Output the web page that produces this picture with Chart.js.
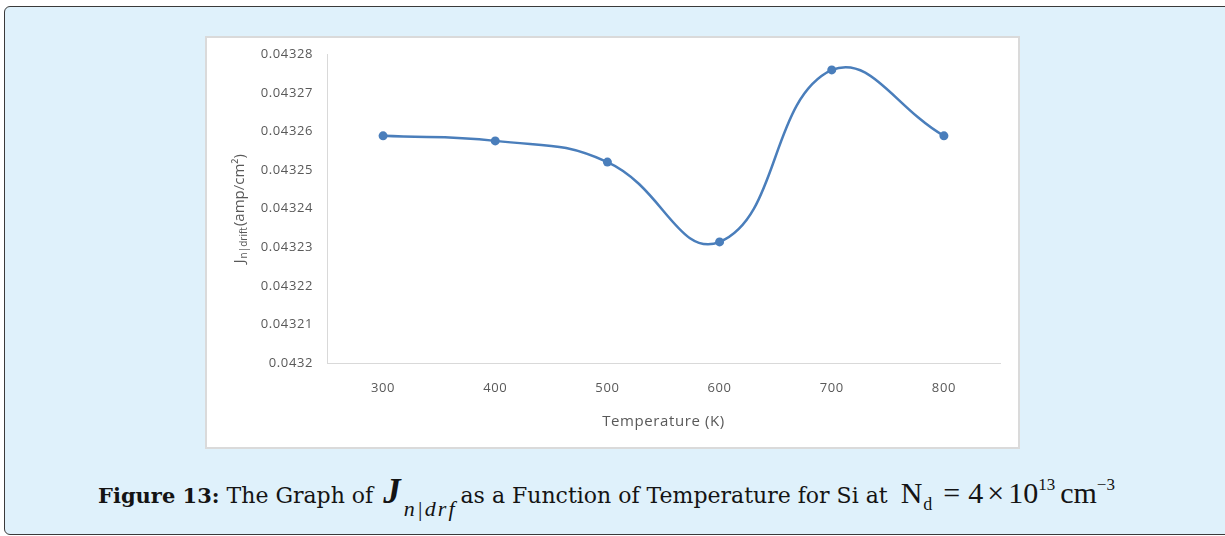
<!DOCTYPE html>
<html>
<head>
<meta charset="utf-8">
<title>Jn drift vs Temperature</title>
<script src="https://cdn.jsdelivr.net/npm/chart.js@4.4.0/dist/chart.umd.min.js"></script>
<style>
  html, body { margin: 0; padding: 0; background: #fff; }
  body { width: 1225px; height: 536px; position: relative; overflow: hidden; }
  #frame {
    position: absolute; left: 4px; top: 6px; width: 1240px; height: 529px;
    box-sizing: border-box; border: 1.5px solid #3a3a3a; border-radius: 6px;
    background: #dff1fb;
  }
  #plotBox {
    position: absolute; left: 205px; top: 36px; width: 815px; height: 413px;
    box-sizing: border-box; border: 2px solid #dadada; background: #fff;
  }
  #plotBox canvas { position: absolute; left: 0; top: 0; }
  #caption {
    position: absolute; left: 98px; top: 481px; line-height: 30px;
    font-family: "DejaVu Serif", serif; font-size: 22px; color: #141414;
    white-space: nowrap;
  }
  #caption span { line-height: 0; }
  #caption b { font-weight: bold; font-size: 21px; }
  .mj { font-family: "Liberation Serif", serif; font-weight: bold; font-style: italic; font-size: 35px; margin-left: 10px; }
  .msub { font-family: "Liberation Serif", serif; font-style: italic; font-size: 22px; letter-spacing: 2px; position: relative; top: 13px; margin-left: 3px; margin-right: 4px; }
  .mt { font-family: "Liberation Serif", serif; font-size: 30px; margin-left: 13px; }
  .mt .sb { font-size: 18px; position: relative; top: 7px; margin-left: 1px; }
  .mt .sp { font-size: 17px; position: relative; top: -13px; }
  .mt .op { margin: 0 8px 0 11px; }
  .mt .tm { margin: 0 4px; }
  .mt .un { margin-left: 5px; }
</style>
</head>
<body>
<div id="frame"></div>
<div id="plotBox"><canvas id="chart" width="811" height="409" style="width:811px;height:409px"></canvas></div>
<div id="caption"><b>Figure 13:</b> The Graph of<span class="mj">J</span><span class="msub">n|drf</span>as a Function of Temperature for Si at<span class="mt">N<span class="sb">d</span><span class="op">=</span>4<span class="tm">×</span>10<span class="sp">13</span><span class="un">cm</span><span class="sp">−3</span></span></div>

<script>
// temperature (K) and electron drift current density Jn|drift (amp/cm²)
const temperatureK = ['300', '400', '500', '600', '700', '800'];
const jnDrift = [0.0432589, 0.0432576, 0.0432521, 0.0432314, 0.0432760, 0.0432589];
const yTickValues = [0.0432, 0.04321, 0.04322, 0.04323, 0.04324, 0.04325, 0.04326, 0.04327, 0.04328];
const yTitleParts = ['J', 'n|drift', '(amp/cm²)'];

const tickColor = '#595959';
const lineBlue = '#4a7ebb';

// rotated y axis title with the n|drift subscript
const yTitlePlugin = {
  id: 'yTitle',
  afterDraw(chart) {
    const ctx = chart.ctx;
    const area = chart.chartArea;
    const cy = (area.top + area.bottom) / 2;
    ctx.save();
    ctx.letterSpacing = '0px';
    ctx.translate(33, cy);
    ctx.rotate(-Math.PI / 2);
    ctx.fillStyle = tickColor;
    ctx.textBaseline = 'middle';
    ctx.textAlign = 'left';
    const mainFont = '15px "Open Sans"';
    const subFont = '10px "Open Sans"';
    ctx.font = mainFont;
    const wJ = ctx.measureText(yTitleParts[0]).width;
    const wU = ctx.measureText(yTitleParts[2]).width;
    ctx.font = subFont;
    const wS = ctx.measureText(yTitleParts[1]).width;
    let x = -(wJ + wS + wU + 2) / 2;
    ctx.font = mainFont;
    ctx.fillText(yTitleParts[0], x, 0);
    x += wJ + 1;
    ctx.font = subFont;
    ctx.fillText(yTitleParts[1], x, 4);
    x += wS + 1;
    ctx.font = mainFont;
    ctx.fillText(yTitleParts[2], x, 0);
    ctx.restore();
  }
};

const spacingPlugin = {
  id: 'tickSpacing',
  beforeDraw(chart) {
    chart.ctx.letterSpacing = '0.6px';
  }
};

let ctx = document.getElementById('chart');

let chartConfig = {
  type: 'line',
  data: {
    labels: temperatureK,
    datasets: [{
      data: jnDrift,
      borderColor: lineBlue,
      backgroundColor: lineBlue,
      borderWidth: 2.5,
      pointRadius: 4.5,
      pointHoverRadius: 4.5,
      pointBackgroundColor: lineBlue,
      pointBorderWidth: 0,
      tension: 0.45,
      fill: false
    }]
  },
  options: {
    responsive: false,
    animation: false,
    devicePixelRatio: 1,
    layout: { padding: { left: 0, right: 18, top: 16.5, bottom: 0 } },
    plugins: {
      legend: { display: false },
      tooltip: { enabled: false }
    },
    scales: {
      x: {
        offset: true,
        grid: { display: false, drawTicks: false },
        border: { display: true, color: '#d9d9d9', width: 1 },
        ticks: { color: tickColor, font: { family: 'Open Sans', size: 13 }, padding: 17, maxRotation: 0 },
        title: {
          display: true,
          text: 'Temperature (K)',
          color: tickColor,
          font: { family: 'Open Sans', size: 15 },
          padding: { top: 0, bottom: 16 }
        },
        afterFit(scale) { scale.height = 84; }
      },
      y: {
        min: 0.0432,
        max: 0.04328,
        grid: { display: false, drawTicks: false },
        border: { display: true, color: '#d9d9d9', width: 1 },
        afterBuildTicks(scale) {
          scale.ticks = yTickValues.map(v => ({ value: v }));
        },
        ticks: {
          color: tickColor,
          font: { family: 'Open Sans', size: 13 },
          padding: 14,
          callback: (v) => String(parseFloat(v.toFixed(5)))
        },
        afterFit(scale) {
          scale.width = 120;
          scale.paddingTop = 8;
          scale.paddingBottom = 8;
        }
      }
    }
  },
  plugins: [spacingPlugin, yTitlePlugin]
};

const myChart = new Chart(ctx, chartConfig);
</script>
</body>
</html>
